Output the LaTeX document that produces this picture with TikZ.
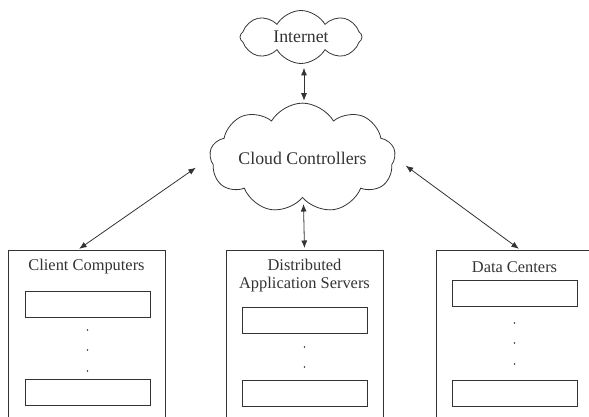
\documentclass[tikz,border=0pt]{standalone}
\usepackage{fontspec}
\setmainfont{Liberation Serif}
\usepackage{tikz}
\usetikzlibrary{shapes.symbols,arrows.meta,positioning}

\tikzset{
 cloudnode/.style={draw,cloud,cloud puff arc=120,aspect=2.3,inner sep=0pt,font=\fontsize{17.8}{20}\selectfont},
 groupbox/.style={draw,anchor=north,minimum width=157pt,minimum height=200pt},
 itembox/.style={draw,minimum width=125pt,minimum height=26pt,inner sep=0pt},
 dotnode/.style={circle,fill,inner sep=0pt,minimum size=1.6pt},
 titlenode/.style={font=\fontsize{16.4}{18}\selectfont,align=center,inner sep=0pt},
 arr/.style={{Latex[length=7.5pt,width=6pt]}-{Latex[length=7.5pt,width=6pt]},line width=0.8pt}
}

\begin{document}
\begin{tikzpicture}[x=1pt,y=-1pt,black!80,line width=0.8pt]
 \useasboundingbox (0,0) rectangle (589,417);
 \clip (0,0) rectangle (589,417);

 % clouds
 \node[cloudnode,cloud puffs=8,minimum width=122pt,minimum height=53pt](internet) at (301,37){Internet};
 \node[cloudnode,cloud puffs=9,minimum width=181pt,minimum height=87pt](ctrl) at (302.5,158){Cloud Controllers};

 % outer boxes
 \node[groupbox](client) at (86.5,250){};
 \node[groupbox](dist) at (304.5,250){};
 \node[groupbox](data) at (514.5,250){};

 \node[titlenode](clienttitle) at (86.5,267){Client Computers};
 \node[titlenode](disttitle) at (304.5,276){Distributed\\Application Servers};
 \node[titlenode](datatitle) at (514.5,267){Data Centers};

 % client computers
 \node[itembox](client1) at (87.5,304){};
 \node[dotnode](clientdot1) at (87.5,330){};
 \node[dotnode](clientdot2) at (87.5,350){};
 \node[dotnode](clientdot3) at (87.5,371){};
 \node[itembox](client2) at (87.5,392){};

 % application servers
 \node[itembox](dist1) at (304.5,320){};
 \node[dotnode](distdot1) at (304.5,347){};
 \node[dotnode](distdot2) at (304.5,367){};
 \node[itembox](dist2) at (304.5,393){};

 % data centers
 \node[itembox](data1) at (514.5,293.5){};
 \node[dotnode](datadot1) at (514.5,323){};
 \node[dotnode](datadot2) at (514.5,343){};
 \node[dotnode](datadot3) at (514.5,364){};
 \node[itembox](data2) at (514.5,393){};

 % links
 \draw[arr,shorten <=4pt,shorten >=2pt] ([xshift=3pt]internet.south) -- ([xshift=1.5pt]ctrl.north);
 \draw[arr,shorten <=5pt,shorten >=2pt] (ctrl) -- (dist.north);
 \draw[arr,shorten <=17pt,shorten >=2pt] (ctrl.west) -- ([xshift=-9pt]client.north);
 \draw[arr,shorten <=13pt,shorten >=2pt] (ctrl.east) -- ([xshift=6pt]data.north);
\end{tikzpicture}
\end{document}
